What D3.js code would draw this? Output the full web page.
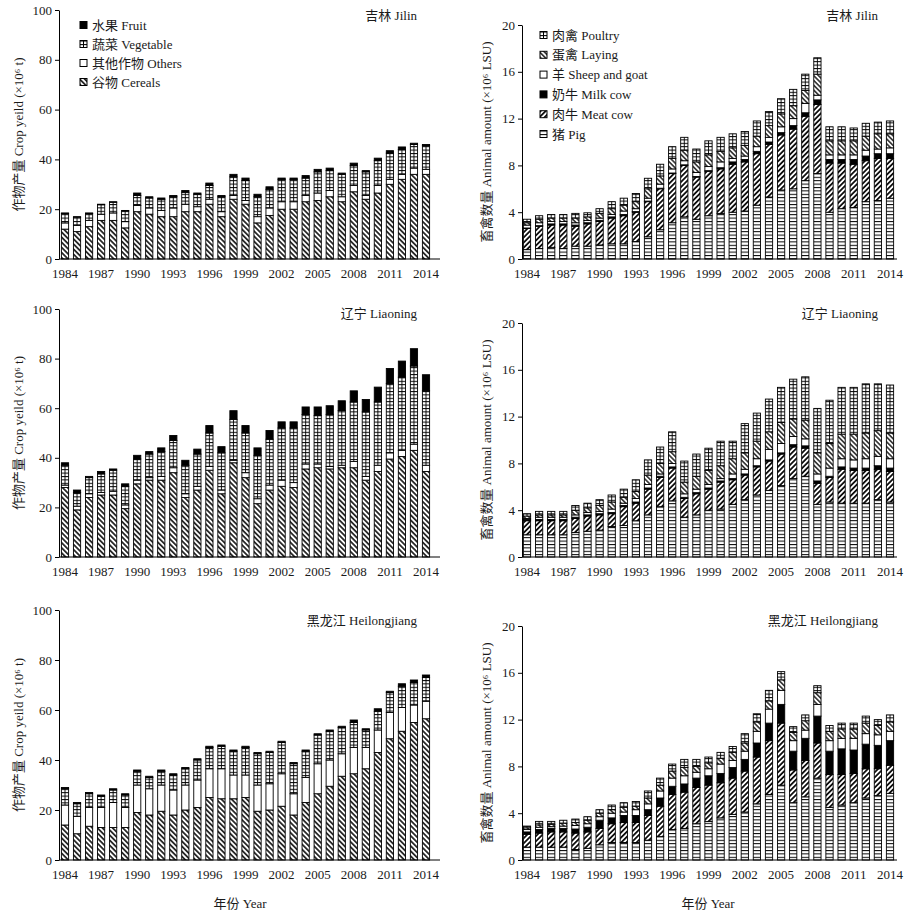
<!DOCTYPE html>
<html>
<head>
<meta charset="utf-8">
<script src="https://cdn.jsdelivr.net/npm/d3@7"></script>
<style>
  body { margin: 0; background: #fff; }
  svg text { font-family: "Liberation Serif", "Noto Sans CJK SC", serif; fill: #1a1a1a; }
</style>
</head>
<body>
<div id="chart"></div>
<script>
// categories
var years = [1984,1985,1986,1987,1988,1989,1990,1991,1992,1993,1994,1995,1996,1997,1998,1999,
             2000,2001,2002,2003,2004,2005,2006,2007,2008,2009,2010,2011,2012,2013,2014];
var xTickYears = [1984,1987,1990,1993,1996,1999,2002,2005,2008,2011,2014];
var cropTicks = [0,20,40,60,80,100];
var animalTicks = [0,4,8,12,16,20];

// crop yield (x10^6 t)
var jilinCereals = [12,11,13,15.5,15.5,12.5,19,18,17,17,19,19,22,17,24,22,14.5,17.5,20,20,23,23.5,25,23,27,24,26.5,30,32,34,34];
var jilinOthers = [2.5,2.5,2.5,2.5,3,2.5,2.5,2.5,2.5,3.5,3,2,2,2,1.5,1.5,2.5,3,3,3,2.5,3,2.5,2,2.5,1.5,3,2,2,2.5,2];
var jilinVegetable = [3.8,3.3,2.8,3.8,4.3,4.3,4,4,4.5,4.5,4.8,5,5.5,6,7.5,8,8,7.5,9,9,7,8.5,8,9,8,9.5,10,10.5,10,9.5,9.5];
var jilinFruit = [0.2,0.2,0.2,0.2,0.2,0.2,1,0.5,0.5,0.5,0.7,0.5,1,0.5,1,1,1,1,0.5,0.5,1,1,1,0.5,1,0.5,1,1,1,0.5,0.5];

var liaoningCereals = [28,19,24,25,25,19.5,29.5,31,31,34,24,27,35,25.5,38,32,21.5,27,28.5,28,35.5,36,35.5,36,36,31,34.5,39.5,40.5,43,34.5];
var liaoningOthers = [1,1.5,1.5,1,1.5,1.5,1.5,1,1.5,2,1.5,1.5,1.5,1.5,1,2,2,2,2.5,2,2,1.5,1,1,2.5,1.5,2.5,2.5,2.5,2.5,2.5];
var liaoningVegetable = [8,5.5,6.5,7.5,8.5,7.5,8.5,9.5,10,11,11.5,13,13.5,15,16.5,16,17.5,18.5,21,22,20,19.5,21,22,24,26,25.5,28,29.5,31.5,30];
var liaoningFruit = [1,1,0.5,1,0.5,1,1.5,1,1.5,2,2,2,3,2.5,3.5,3,3,3.5,2.5,2.5,3,3.5,3.5,4,4.5,5,6,6,6.5,7,6.5];

var heilongjiangCereals = [14,10.5,13.5,13,13,13,19,18,19.5,18,20,21,25,24.5,24.5,25,19.5,20,21.5,18,23,26.5,29.5,33.5,34.5,36.5,43,48.5,51.5,55,56.5];
var heilongjiangOthers = [8,7,7.5,8,10,8,11,10.5,10.5,10,10,11,11.5,12,9.5,9,10.5,10.5,13,8.5,10,12,10.5,9,10.5,8.5,9,10.5,9.5,7,7];
var heilongjiangVegetable = [6.5,5,5.5,4.5,5,5,5.5,4.5,5.5,6,6.5,8,8.5,9,9.5,11,12.5,12.5,12.5,12,10.5,11.5,11.5,10.5,10,7,7.5,8,8.5,9,9.5];
var heilongjiangFruit = [0.5,0.5,0.5,0.5,0.5,0.5,0.5,0.5,0.5,0.5,0.5,0.5,0.5,0.5,0.5,0.5,0.5,0.5,0.5,0.5,0.5,0.5,0.5,0.5,1,0.5,1,0.5,1,1,1];

// animal amount (x10^6 LSU)
var jilinPig = [0.8,0.9,1,0.9,1.1,1.1,1.2,1.3,1.3,1.5,1.9,2.5,3.1,3.6,3.4,3.7,3.9,4,4.1,4.6,5.3,5.9,6,6.7,7.3,4,4.3,4.4,4.9,5,5.2];
var jilinMeatCow = [1.8,1.9,1.9,2,1.7,1.9,2,2.2,2.4,2.5,3,3.5,4.2,4.4,3.6,3.8,3.8,4.1,4.2,4.4,4.5,4.7,5.1,5.5,5.9,4.2,3.9,3.7,3.5,3.6,3.4];
var jilinMilkCow = [0.05,0.05,0.1,0.1,0.1,0.1,0.1,0.1,0.1,0.05,0.05,0.05,0.05,0.05,0.05,0.05,0.1,0.2,0.2,0.2,0.2,0.2,0.3,0.3,0.4,0.3,0.3,0.4,0.4,0.4,0.4];
var jilinSheep = [0.25,0.25,0.2,0.2,0.2,0.2,0.2,0.2,0.3,0.25,0.25,0.35,0.35,0.35,0.35,0.35,0.5,0.3,0.3,0.4,0.4,0.5,0.6,0.8,0.4,0.4,0.4,0.4,0.5,0.4,0.5];
var jilinLaying = [0.2,0.3,0.3,0.3,0.4,0.3,0.4,0.5,0.5,0.6,0.8,0.7,0.9,0.9,0.9,1,0.9,0.9,0.9,0.9,1,1.1,1.1,1.1,1.8,1.2,1.2,1.2,1.2,1.3,1.2];
var jilinPoultry = [0.3,0.3,0.3,0.3,0.4,0.35,0.4,0.6,0.6,0.7,0.9,1,1,1.1,1.1,1.2,1.2,1.2,1.2,1.3,1.2,1.3,1.4,1.4,1.4,1.2,1.2,1.1,1.1,1,1.1];

var liaoningPig = [1.9,1.9,1.9,1.9,2.1,2.2,2.3,2.6,2.7,3.1,3.6,4.3,4.8,3.4,3.6,4,4.1,4.5,4.9,5.3,5.7,6.1,6.7,6.9,4.5,4.7,4.6,4.6,4.6,4.9,4.7];
var liaoningMeatCow = [1.2,1.2,1.2,1.2,1.2,1.3,1.3,1.1,1.6,1.5,2.2,2.5,2.8,1.6,1.8,1.8,2.3,2.1,2.1,2.4,2.5,2.7,2.7,2.4,1.8,2.1,2.9,2.8,2.8,2.6,2.6];
var liaoningMilkCow = [0.1,0.1,0.1,0.1,0.1,0.1,0.1,0.1,0.1,0.1,0.1,0.1,0.1,0.1,0.1,0.1,0.1,0.1,0.1,0.1,0.1,0.1,0.2,0.2,0.2,0.1,0.2,0.2,0.2,0.3,0.3];
var liaoningSheep = [0.1,0.2,0.2,0.2,0.2,0.2,0.2,0.3,0.2,0.3,0.3,0.2,0.3,0.3,0.3,0.3,0.2,0.4,0.4,0.6,0.9,0.8,0.7,0.6,0.6,0.7,0.7,0.7,0.8,0.8,0.8];
var liaoningLaying = [0.2,0.2,0.2,0.2,0.4,0.4,0.5,0.6,0.5,0.6,0.8,0.9,1,1,1.1,1.2,1.1,1.3,1.4,1.5,1.5,1.8,1.5,1.6,1.8,2.1,2.1,2.2,2.2,2.2,2.2];
var liaoningPoultry = [0.2,0.3,0.3,0.3,0.4,0.4,0.5,0.6,0.7,1,1.3,1.4,1.7,1.8,1.9,1.9,2.1,1.5,2.5,2.4,2.8,3,3.4,3.7,3.8,3.7,4,4,4.2,4,4.1];

var heilongjiangPig = [1.1,1.1,1.1,1.1,0.9,1,1.3,1.5,1.5,1.5,1.7,2,2.6,2.7,3.1,3.3,3.6,3.9,4.1,4.8,5.6,6.4,4.9,5.4,7,4.5,4.7,4.9,5.3,5.5,5.7];
var heilongjiangMeatCow = [1.1,1.2,1.3,1.3,1.4,1.4,1.4,1.6,1.7,1.7,2.1,2.6,3,3.1,3.1,3.1,3,3.1,3.5,4,4.6,5.3,2.8,3.1,3,2.8,2.6,2.5,2.5,2.3,2.4];
var heilongjiangMilkCow = [0.2,0.3,0.3,0.3,0.35,0.4,0.7,0.5,0.6,0.6,0.5,0.7,0.7,0.7,0.8,0.8,0.8,0.9,1,1.2,1.5,1.6,1.6,1.9,2.3,2,2.2,2,2.1,2,2.1];
var heilongjiangSheep = [0.2,0.2,0.15,0.2,0.3,0.3,0.3,0.4,0.3,0.5,0.5,0.6,0.7,0.7,0.5,0.6,0.8,0.6,0.7,1,1.2,1.2,0.9,0.7,1,0.9,0.9,1,0.9,0.9,0.8];
var heilongjiangLaying = [0.15,0.2,0.2,0.25,0.25,0.3,0.3,0.3,0.4,0.3,0.5,0.5,0.6,0.7,0.5,0.5,0.5,0.7,0.7,0.8,0.7,0.9,0.7,0.8,1,0.8,0.8,0.8,0.9,0.8,0.8];
var heilongjiangPoultry = [0.15,0.3,0.25,0.25,0.3,0.3,0.3,0.4,0.4,0.4,0.6,0.6,0.6,0.7,0.6,0.5,0.5,0.5,0.8,0.7,0.9,0.7,0.5,0.5,0.6,0.5,0.5,0.5,0.6,0.5,0.6];

var cropKeys = ["cereals", "others", "vegetable", "fruit"];
var cropNames = {cereals: "谷物 Cereals", others: "其他作物 Others", vegetable: "蔬菜 Vegetable", fruit: "水果 Fruit"};
var animalKeys = ["pig", "meatCow", "milkCow", "sheep", "laying", "poultry"];
var animalNames = {pig: "猪 Pig", meatCow: "肉牛 Meat cow", milkCow: "奶牛 Milk cow",
                   sheep: "羊 Sheep and goat", laying: "蛋禽 Laying", poultry: "肉禽 Poultry"};

// fill for each series
var fills = {
  cereals: "url(#hatchBack)", others: "#fff", vegetable: "url(#hlines)", fruit: "#000",
  pig: "url(#hlines)", meatCow: "url(#hatchFwd)", milkCow: "#000", sheep: "#fff",
  laying: "url(#hatchBackThin)", poultry: "url(#hlines)"
};
var gridKeys = ["vegetable", "poultry"];   // these get a vertical line as well

var makeRows = (keys, arrays) => years.map((yr, i) => {
    var row = {year: yr};
    keys.forEach((k, j) => row[k] = arrays[j][i]);
    return row;
});

var panels = [
  {col: 0, row: 0, title: "吉林 Jilin", keys: cropKeys, rows: makeRows(cropKeys, [jilinCereals, jilinOthers, jilinVegetable, jilinFruit])},
  {col: 1, row: 0, title: "吉林 Jilin", keys: animalKeys, rows: makeRows(animalKeys, [jilinPig, jilinMeatCow, jilinMilkCow, jilinSheep, jilinLaying, jilinPoultry])},
  {col: 0, row: 1, title: "辽宁 Liaoning", keys: cropKeys, rows: makeRows(cropKeys, [liaoningCereals, liaoningOthers, liaoningVegetable, liaoningFruit])},
  {col: 1, row: 1, title: "辽宁 Liaoning", keys: animalKeys, rows: makeRows(animalKeys, [liaoningPig, liaoningMeatCow, liaoningMilkCow, liaoningSheep, liaoningLaying, liaoningPoultry])},
  {col: 0, row: 2, title: "黑龙江 Heilongjiang", keys: cropKeys, rows: makeRows(cropKeys, [heilongjiangCereals, heilongjiangOthers, heilongjiangVegetable, heilongjiangFruit])},
  {col: 1, row: 2, title: "黑龙江 Heilongjiang", keys: animalKeys, rows: makeRows(animalKeys, [heilongjiangPig, heilongjiangMeatCow, heilongjiangMilkCow, heilongjiangSheep, heilongjiangLaying, heilongjiangPoultry])}
];

// layout of the two columns and three rows
var cols = [
  {x0: 59, first: 65, last: 426, axisEnd: 440, max: 100, ticks: cropTicks, labelX: 18, titleEnd: 417, xTitle: 240,
   ylabel: "作物产量 Crop yeild (×10⁶ t)"},
  {x0: 522, first: 527, last: 890, axisEnd: 897, max: 20, ticks: animalTicks, labelX: 486, titleEnd: 878, xTitle: 708,
   ylabel: "畜禽数量 Animal amount (×10⁶ LSU)"}
];
var rowBox = [
  [{top: 10, bottom: 259}, {top: 25, bottom: 259}],
  [{top: 309, bottom: 557}, {top: 323, bottom: 557}],
  [{top: 610, bottom: 860}, {top: 626, bottom: 860}]
];
var titleY = [20, 318, 625];

var svg = d3.select("#chart").append("svg")
    .attr("width", 915).attr("height", 915);

// patterns
var defs = svg.append("defs");
var addHatch = (id, angle, gap, w) => {
    var p = defs.append("pattern").attr("id", id)
        .attr("patternUnits", "userSpaceOnUse")
        .attr("width", gap).attr("height", 10)
        .attr("patternTransform", "rotate(" + angle + ")");
    p.append("rect").attr("width", gap).attr("height", 10).attr("fill", "#fff");
    p.append("line").attr("x1", gap / 2).attr("x2", gap / 2).attr("y1", 0).attr("y2", 10)
        .attr("stroke", "#000").attr("stroke-width", w);
};
addHatch("hatchBack", -45, 3.6, 1.5);
addHatch("hatchBackThin", -45, 3.4, 1.3);
addHatch("hatchFwd", 45, 3.6, 1.7);

var hl = defs.append("pattern").attr("id", "hlines")
    .attr("patternUnits", "userSpaceOnUse").attr("width", 10).attr("height", 3.4);
hl.append("rect").attr("width", 10).attr("height", 3.4).attr("fill", "#fff");
hl.append("line").attr("x1", 0).attr("x2", 10).attr("y1", 0.5).attr("y2", 0.5)
    .attr("stroke", "#000").attr("stroke-width", 1);

var drawPanel = (p) => {
    var c = cols[p.col];
    var box = rowBox[p.row][p.col];
    var g = svg.append("g");

    var step = (c.last - c.first) / (years.length - 1);
    var x = d3.scaleBand().domain(years)
        .range([c.first - step / 2, c.last + step / 2])
        .paddingInner(0.4).paddingOuter(0.2);
    var y = d3.scaleLinear().domain([0, c.max]).range([box.bottom, box.top]);

    var series = d3.stack().keys(p.keys)(p.rows);

    var layers = g.selectAll(".layer").data(series).join("g")
        .attr("class", "layer")
        .attr("fill", d => fills[d.key]);

    layers.selectAll("rect").data(d => d).join("rect")
        .attr("x", d => x(d.data.year))
        .attr("width", x.bandwidth())
        .attr("y", d => y(d[1]))
        .attr("height", d => y(d[0]) - y(d[1]))
        .attr("stroke", "#000").attr("stroke-width", 0.9);

    // middle line for the grid-like series
    layers.filter(d => gridKeys.includes(d.key))
        .selectAll("line").data(d => d).join("line")
        .attr("x1", d => x(d.data.year) + x.bandwidth() / 2)
        .attr("x2", d => x(d.data.year) + x.bandwidth() / 2)
        .attr("y1", d => y(d[1]))
        .attr("y2", d => y(d[0]))
        .attr("stroke", "#000").attr("stroke-width", 0.9);

    // axes
    var yAxis = g.append("g")
        .attr("transform", "translate(" + c.x0 + ",0)")
        .call(d3.axisLeft(y).tickValues(c.ticks).tickSize(4).tickPadding(3).tickSizeOuter(0));
    yAxis.selectAll("text").style("font-size", "13px");
    yAxis.select(".domain").attr("stroke", "#000");

    var xAxis = g.append("g")
        .attr("transform", "translate(0," + box.bottom + ")")
        .call(d3.axisBottom(x).tickValues(xTickYears).tickSize(0).tickPadding(10));
    xAxis.select(".domain").remove();
    xAxis.selectAll("text").style("font-size", "13px");
    g.append("line")
        .attr("x1", c.x0).attr("x2", c.axisEnd)
        .attr("y1", box.bottom).attr("y2", box.bottom)
        .attr("stroke", "#000");

    // title at top right
    g.append("text")
        .attr("x", c.titleEnd).attr("y", titleY[p.row])
        .attr("text-anchor", "end")
        .style("font-size", "13px")
        .text(p.title);

    // y label
    g.append("text")
        .attr("transform", "translate(" + c.labelX + "," + ((box.top + box.bottom) / 2) + ") rotate(-90)")
        .attr("text-anchor", "middle")
        .attr("dy", "0.35em")
        .style("font-size", "13px")
        .text(c.ylabel);

    // x label on last row
    if (p.row == 2) {
        g.append("text")
            .attr("x", c.xTitle)
            .attr("y", 908)
            .attr("text-anchor", "middle")
            .style("font-size", "13px")
            .text("年份 Year");
    }

    // legend in the first row
    if (p.row == 0) {
        var legKeys = p.keys.slice().reverse();
        var lx = p.col == 0 ? 80 : 540;
        var ly = p.col == 0 ? 25 : 35;
        var lstep = p.col == 0 ? 19 : 19.8;
        var leg = g.selectAll(".leg").data(legKeys).join("g")
            .attr("class", "leg")
            .attr("transform", (d, i) => "translate(" + lx + "," + (ly + i * lstep) + ")");
        leg.append("rect")
            .attr("x", 0).attr("y", -3.5).attr("width", 7).attr("height", 7)
            .attr("fill", d => fills[d]).attr("stroke", "#000").attr("stroke-width", 1);
        leg.filter(d => gridKeys.includes(d)).append("line")
            .attr("x1", 3.5).attr("x2", 3.5).attr("y1", -3.5).attr("y2", 3.5)
            .attr("stroke", "#000");
        leg.append("text")
            .attr("x", 12).attr("dy", "0.35em")
            .style("font-size", "13px")
            .text(d => (p.col == 0 ? cropNames : animalNames)[d]);
    }
};

panels.forEach(drawPanel);
</script>
</body>
</html>
